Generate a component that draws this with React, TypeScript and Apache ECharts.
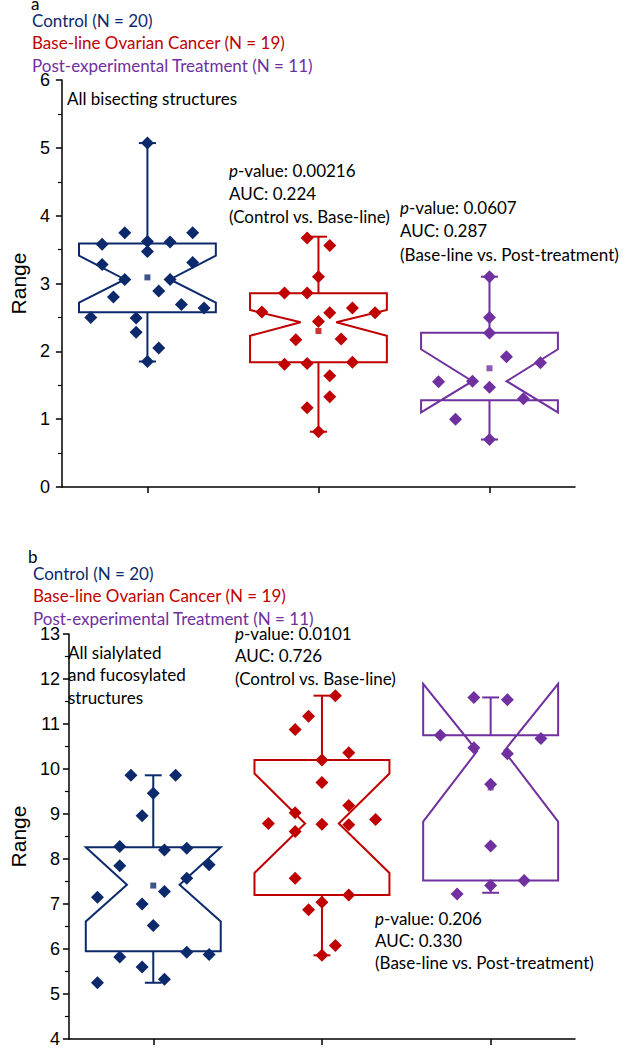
import React, { useEffect, useRef } from "react";
import * as echarts from "echarts";

// ---------- DATA ----------
const categories = ["Control", "Base-line Ovarian Cancer", "Post-experimental Treatment"];
const groupN = [20, 19, 11];
const colors = ["#0c2a6b", "#c00000", "#7030a0"];

// Panel a: All bisecting structures
const bisControl = [5.07, 3.75, 3.75, 3.58, 3.62, 3.61, 3.47, 3.28, 3.31, 3.06, 3.06, 2.8, 2.89, 2.69, 2.64, 2.5, 2.49, 2.28, 2.05, 1.85];
const bisControlCol = [0, -2, 4, -4, 0, 2, 0, -4, 4, -2, 2, -3, 1, 3, 5, -5, -1, -1, 1, 0];
const bisBaseline = [3.67, 3.56, 3.1, 2.86, 2.86, 2.58, 2.57, 2.64, 2.57, 2.44, 2.17, 2.18, 1.81, 1.82, 1.84, 1.64, 1.33, 1.17, 0.815];
const bisBaselineCol = [-1, 1, 0, -3, -1, -5, 1, 3, 5, 0, -2, 2, -3, -1, 3, 1, 1, -1, 0];
const bisPost = [3.1, 2.5, 2.27, 1.92, 1.83, 1.55, 1.56, 1.47, 1.3, 1.0, 0.7];
const bisPostCol = [0, 0, 0, 1.5, 4.5, -4.5, -1.5, 0, 3, -3, 0];

const bisQ1 = [2.575, 1.84, 1.28];
const bisMedian = [3.06, 2.43, 1.56];
const bisQ3 = [3.59, 2.855, 2.275];
const bisNotchLow = [2.72, 2.23, 1.1];
const bisNotchHigh = [3.41, 2.61, 2.03];
const bisWhiskerLow = [1.85, 0.815, 0.7];
const bisWhiskerHigh = [5.07, 3.69, 3.1];
const bisMean = [3.09, 2.3, 1.75];

// Panel b: All sialylated and fucosylated structures
const siaControl = [9.86, 9.86, 9.46, 8.96, 8.28, 8.2, 8.24, 7.85, 7.87, 7.57, 7.28, 7.15, 7.0, 6.52, 5.82, 5.93, 5.88, 5.6, 5.33, 5.25];
const siaControlCol = [-2, 2, 0, -1, -3, 1, 3, -3, 5, 3, 1, -5, -1, 0, -3, 3, 5, -1, 1, -5];
const siaBaseline = [11.63, 11.17, 10.88, 10.36, 10.2, 9.7, 9.19, 9.03, 8.79, 8.77, 8.76, 8.88, 8.61, 7.57, 7.2, 7.04, 6.87, 6.08, 5.86];
const siaBaselineCol = [1.2, -1.2, -2.4, 2.4, 0, 0, 2.4, -2.4, -4.8, 0, 2.4, 4.8, -2.4, -2.4, 2.4, 0, -1.2, 1.2, 0];
const siaPost = [11.59, 11.54, 10.75, 10.68, 10.47, 10.34, 9.66, 8.29, 7.52, 7.41, 7.22];
const siaPostCol = [-1.5, 1.5, -4.5, 4.5, -1.5, 1.5, 0, 0, 3, 0, -3];

const siaQ1 = [5.95, 7.2, 7.52];
const siaMedian = [7.43, 8.79, 10.4];
const siaQ3 = [8.26, 10.2, 10.75];
const siaNotchLow = [6.61, 7.69, 8.83];
const siaNotchHigh = [8.26, 9.9, 11.89];
const siaWhiskerLow = [5.25, 5.86, 7.25];
const siaWhiskerHigh = [9.86, 11.63, 11.59];
const siaMean = [7.41, 8.77, 9.59];

const yTicksA = { min: 0, max: 6, interval: 1 };
const yTicksB = { min: 4, max: 13, interval: 1 };

// ---------- STYLE ----------
const JITTER_STEP = 0.0662;
const BOX_HALF = 0.4;
const CAP_HALF = 0.05;
const notchFracA = [0.33, 0.26, 0.25];
const notchFracB = [0.39, 0.25, 0.2];
const TXT_FONT = "Lato";
const AX_FONT = "Liberation Sans";

function boxSeries(panel: number, q1: number[], med: number[], q3: number[], nLo: number[], nHi: number[], wLo: number[], wHi: number[], frac: number[]) {
  return {
    type: "custom",
    xAxisIndex: panel,
    yAxisIndex: panel,
    z: 2,
    data: q1.map((_, g) => [g + 1, q1[g], med[g], q3[g], nLo[g], nHi[g], wLo[g], wHi[g]]),
    encode: { x: 0, y: [1, 2, 3, 4, 5, 6, 7] },
    renderItem: (params: any, api: any) => {
      const g = params.dataIndex;
      const x = api.value(0);
      const vq1 = api.value(1), vmed = api.value(2), vq3 = api.value(3);
      const vnl = api.value(4), vnh = api.value(5), vwl = api.value(6), vwh = api.value(7);
      const L = x - BOX_HALF, R = x + BOX_HALF;
      const li = x - BOX_HALF * frac[g], ri = x + BOX_HALF * frac[g];
      const c = (a: number, b: number) => api.coord([a, b]);
      const pts = [c(L, vq3), c(R, vq3), c(R, vnh), c(ri, vmed), c(R, vnl), c(R, vq1), c(L, vq1), c(L, vnl), c(li, vmed), c(L, vnh)];
      const st = { stroke: colors[g], lineWidth: 2, fill: "none" };
      const line = (a: number[], b: number[]) => ({ type: "line", shape: { x1: a[0], y1: a[1], x2: b[0], y2: b[1] }, style: st });
      return {
        type: "group",
        children: [
          { type: "polygon", shape: { points: pts }, style: st },
          line(c(x, vq3), c(x, vwh)),
          line(c(x, vq1), c(x, vwl)),
          line(c(x - CAP_HALF, vwh), c(x + CAP_HALF, vwh)),
          line(c(x - CAP_HALF, vwl), c(x + CAP_HALF, vwl)),
        ],
      };
    },
  };
}

function pointSeries(panel: number, g: number, vals: number[], cols: number[]) {
  return {
    type: "scatter",
    name: categories[g],
    xAxisIndex: panel,
    yAxisIndex: panel,
    symbol: "diamond",
    symbolSize: 13,
    z: 4,
    itemStyle: { color: colors[g], opacity: 1 },
    data: vals.map((v, i) => [g + 1 + cols[i] * JITTER_STEP, v]),
  };
}

function meanSeries(panel: number, means: number[]) {
  return {
    type: "scatter",
    xAxisIndex: panel,
    yAxisIndex: panel,
    symbol: "rect",
    symbolSize: 6,
    z: 3,
    data: means.map((m, g) => ({ value: [g + 1, m], itemStyle: { color: colors[g] } })),
  };
}

function xAxis(grid: number) {
  return {
    gridIndex: grid,
    type: "value",
    min: 0.5,
    max: 3.5,
    axisLine: { show: true, onZero: false, lineStyle: { color: "#000", width: 1.5 } },
    axisTick: { show: true, length: 6, customValues: [1, 2, 3], lineStyle: { color: "#000", width: 1.5 } },
    axisLabel: { show: false },
    splitLine: { show: false },
  };
}

function yAxis(grid: number, t: { min: number; max: number; interval: number }, margin: number) {
  return {
    gridIndex: grid,
    type: "value",
    min: t.min,
    max: t.max,
    interval: t.interval,
    name: "Range",
    nameLocation: "middle",
    nameGap: 32,
    nameTextStyle: { fontSize: 21, fontFamily: AX_FONT, color: "#000" },
    axisLine: { show: true, onZero: false, lineStyle: { color: "#000", width: 1.5 } },
    axisTick: { show: true, length: 6, lineStyle: { color: "#000", width: 1.5 } },
    minorTick: { show: true, splitNumber: 2, length: 4, lineStyle: { color: "#000", width: 1.2 } },
    splitLine: { show: false },
    minorSplitLine: { show: false },
    axisLabel: { fontSize: 18, fontFamily: AX_FONT, color: "#000", margin },
  };
}

function txt(text: string, x: number, y: number, fill = "#000", size = 17) {
  return {
    type: "text",
    x,
    y,
    z: 10,
    style: { text, fill, font: `${size}px ${TXT_FONT}`, align: "left", verticalAlign: "middle" },
  };
}

function pval(label: string, x: number, y: number) {
  return {
    type: "text",
    x,
    y,
    z: 10,
    style: {
      text: `{i|p}{n|-value: ${label}}`,
      align: "left",
      verticalAlign: "middle",
      rich: {
        i: { fontStyle: "italic", fontSize: 17, fontFamily: TXT_FONT, fill: "#000" },
        n: { fontSize: 17, fontFamily: TXT_FONT, fill: "#000" },
      },
    },
  };
}

export default function App() {
  const ref = useRef<HTMLDivElement>(null);
  useEffect(() => {
    if (!ref.current) return;
    const chart = echarts.init(ref.current, undefined, { renderer: "svg" });
    const legendLines = (y0: number, x0: number) =>
      categories.map((c, g) => txt(`${c} (N = ${groupN[g]})`, x0, y0 + g * 22.5, colors[g], 17));
    chart.setOption({
      animation: false,
      backgroundColor: "#fff",
      grid: [
        { left: 58, right: 50, top: 80, height: 407 },
        { left: 58, right: 50, top: 634, height: 407 },
      ],
      xAxis: [xAxis(0), xAxis(1)],
      yAxis: [yAxis(0, yTicksA, 12), yAxis(1, yTicksB, 9)],
      series: [
        boxSeries(0, bisQ1, bisMedian, bisQ3, bisNotchLow, bisNotchHigh, bisWhiskerLow, bisWhiskerHigh, notchFracA),
        meanSeries(0, bisMean),
        pointSeries(0, 0, bisControl, bisControlCol),
        pointSeries(0, 1, bisBaseline, bisBaselineCol),
        pointSeries(0, 2, bisPost, bisPostCol),
        boxSeries(1, siaQ1, siaMedian, siaQ3, siaNotchLow, siaNotchHigh, siaWhiskerLow, siaWhiskerHigh, notchFracB),
        meanSeries(1, siaMean),
        pointSeries(1, 0, siaControl, siaControlCol),
        pointSeries(1, 1, siaBaseline, siaBaselineCol),
        pointSeries(1, 2, siaPost, siaPostCol),
      ],
      graphic: [
        txt("a", 31, 3),
        ...legendLines(20, 32),
        txt("All bisecting structures", 67, 98),
        pval("0.00216", 229, 170),
        txt("AUC: 0.224", 229, 193),
        txt("(Control vs. Base-line)", 229, 216),
        pval("0.0607", 400, 207),
        txt("AUC: 0.287", 400, 230),
        txt("(Base-line vs. Post-treatment)", 400, 254),
        txt("b", 28, 556),
        ...legendLines(573, 33),
        txt("All sialylated", 68, 652),
        txt("and fucosylated", 68, 674),
        txt("structures", 68, 697),
        pval("0.0101", 235, 633),
        txt("AUC: 0.726", 235, 655),
        txt("(Control vs. Base-line)", 235, 678),
        pval("0.206", 375, 918),
        txt("AUC: 0.330", 375, 940),
        txt("(Base-line vs. Post-treatment)", 375, 962),
      ],
    });
    return () => chart.dispose();
  }, []);
  return <div ref={ref} style={{ position: "fixed", left: 0, top: 0, width: 625, height: 1048 }} />;
}
